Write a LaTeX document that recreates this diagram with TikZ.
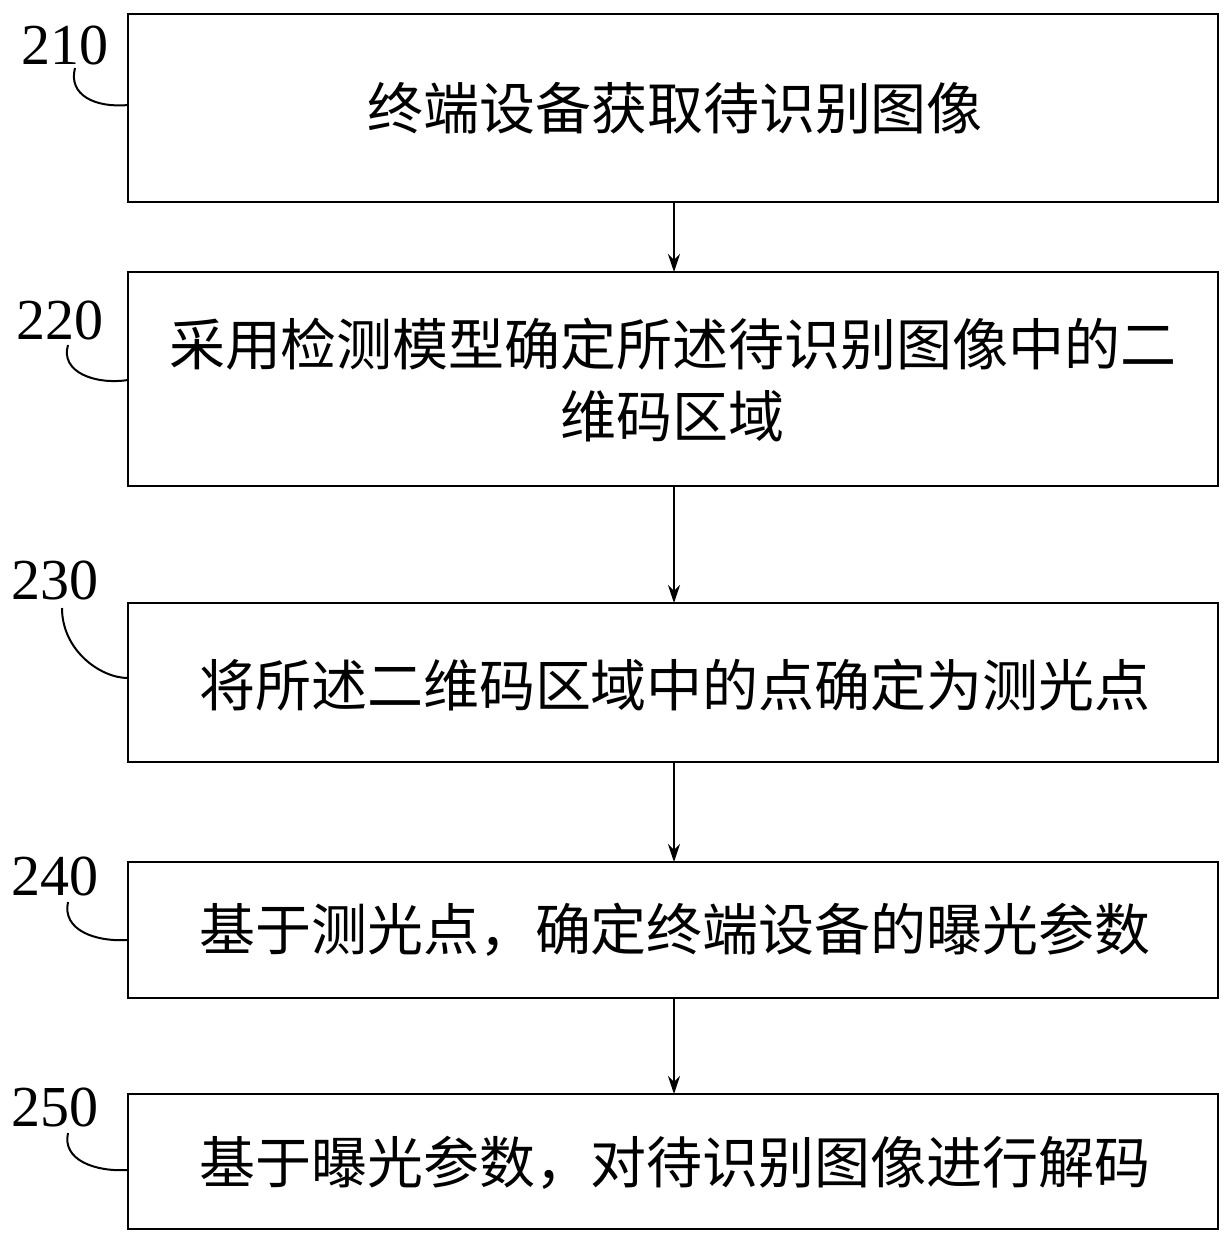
\documentclass[tikz,border=0pt]{standalone}
\usepackage{fontspec}
\setmainfont{Liberation Serif}
\newfontfamily\cjk{Noto Sans CJK SC}
\usetikzlibrary{arrows.meta}
\begin{document}
\begin{tikzpicture}[x=0.5pt,y=-0.5pt,
  box/.style={draw,line width=1pt,inner sep=0pt},
  txt/.style={font=\cjk\fontsize{28}{36}\selectfont,align=center},
  lab/.style={font=\fontsize{29}{30}\selectfont},
  arr/.style={-{Stealth[length=9pt,width=6pt]},line width=1pt},
  hook/.style={line width=1pt}]
\useasboundingbox (0,0) rectangle (1232,1244);
\draw[box] (128,14) rectangle (1218,202);
\draw[box] (128,272) rectangle (1218,486);
\draw[box] (128,603) rectangle (1218,762);
\draw[box] (128,862) rectangle (1218,998);
\draw[box] (128,1094) rectangle (1218,1229);
\node[txt] (t1) at (675,108) {终端设备获取待识别图像};
\node[txt] (t2) at (673,380) {采用检测模型确定所述待识别图像中的二\\维码区域};
\node[txt] (t3) at (675,685) {将所述二维码区域中的点确定为测光点};
\node[txt] (t4) at (675,930) {基于测光点，确定终端设备的曝光参数};
\node[txt] (t5) at (675,1163) {基于曝光参数，对待识别图像进行解码};
\coordinate (b1) at (674,202); \coordinate (a2) at (674,272);
\coordinate (b2) at (674,486); \coordinate (a3) at (674,603);
\coordinate (b3) at (674,762); \coordinate (a4) at (674,862);
\coordinate (b4) at (674,998); \coordinate (a5) at (674,1094);
\draw[arr] (b1) -- (a2);
\draw[arr] (b2) -- (a3);
\draw[arr] (b3) -- (a4);
\draw[arr] (b4) -- (a5);
\node[lab] (l1) at (65,45) {210};
\node[lab] (l2) at (60,320) {220};
\node[lab] (l3) at (55,580) {230};
\node[lab] (l4) at (55,876) {240};
\node[lab] (l5) at (55,1107) {250};
\draw[hook] (75,68) .. controls (68,95) and (95,108) .. (128,105);
\draw[hook] (68,345) .. controls (60,372) and (95,385) .. (128,380);
\draw[hook] (62,608) .. controls (62,650) and (100,678) .. (128,678);
\draw[hook] (68,902) .. controls (62,930) and (95,942) .. (128,940);
\draw[hook] (68,1133) .. controls (62,1160) and (95,1172) .. (128,1170);
\end{tikzpicture}
\end{document}
